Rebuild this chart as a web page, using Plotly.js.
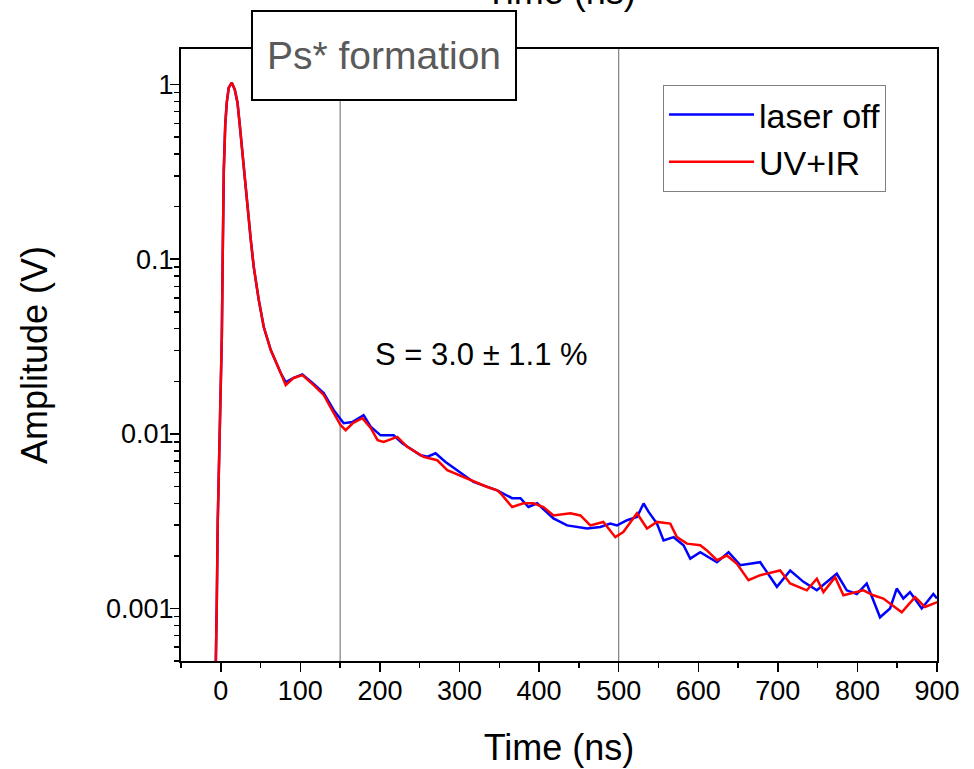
<!DOCTYPE html>
<html>
<head>
<meta charset="utf-8">
<script src="https://cdn.plot.ly/plotly-3.0.1.min.js"></script>
<style>html,body{margin:0;padding:0;background:#fff;}#chart{width:974px;height:769px;}</style>
</head>
<body>
<div id="chart"></div>
<script>
// Time (ns) and amplitude (V)
const timeLaserOff = [-7, -5.6, -5.0, -3.8, -2.5, -1.3, 0, 1.3, 2.5, 3.8, 5.6, 7.5, 10, 13.8, 17.6, 21, 23.8, 27.2, 30.1, 33.5, 37.7, 41.4, 47.7, 54, 62.8, 75.3,
  81.6, 91.6, 102.5, 116.7, 129.3, 141.8, 154.4, 165.7, 179.5, 188.3, 200.8, 217.2, 228.1, 251, 259.8, 269.9, 282.4, 317.6, 347.3, 366.1,
  376.6, 386.6, 397.5, 418, 435.2, 460.3, 477, 489.5, 497.9, 510.5, 523, 531.3, 537.6, 548.1, 556.4, 569, 581.5, 589.9, 602.5, 623.5,
  638.1, 652.7, 677.8, 698.8, 715.5, 732.2, 749, 774.1, 786.6, 799.2, 811.7, 828.4, 841, 849.4, 857.7, 866.1, 880.8, 895.4, 900];
const ampLaserOff = [0.0003, 0.000655, 0.00111, 0.0032, 0.0062, 0.0105, 0.0156, 0.0358, 0.113, 0.325, 0.59, 0.788, 0.961, 1.027, 0.936, 0.788, 0.59, 0.407, 0.285, 0.192, 0.129, 0.0904, 0.0585, 0.0409, 0.0302, 0.0223,
  0.0198, 0.0209, 0.0219, 0.0193, 0.0171, 0.0137, 0.0115, 0.0117, 0.0128, 0.011, 0.0098, 0.0098, 0.00883, 0.00754, 0.0074, 0.00774, 0.0069, 0.0053, 0.00475, 0.00428,
  0.00428, 0.00381, 0.004, 0.00328, 0.00299, 0.00287, 0.00293, 0.00306, 0.00299, 0.0032, 0.00334, 0.00399, 0.00357, 0.00306, 0.00245, 0.00256, 0.0023, 0.00193, 0.0021, 0.00184,
  0.0021, 0.00177, 0.00184, 0.00133, 0.00165, 0.00142, 0.00127, 0.00158, 0.00127, 0.00121, 0.00139, 0.00089, 0.001, 0.0013, 0.00114, 0.00124, 0.001, 0.00121, 0.00114];

const timeUvIr = [-7, -5.6, -5.0, -3.8, -2.5, -1.3, 0, 1.3, 2.5, 3.8, 5.6, 7.5, 10, 13.8, 17.6, 21, 23.8, 27.2, 30.1, 33.5, 37.7, 41.4, 47.7, 54, 62.8, 75.3,
  81.6, 91.6, 102.5, 116.7, 129.3, 141.8, 150.6, 156.9, 165.7, 177.9, 188.3, 197.1, 204.6, 221.8, 234.3, 254.8, 272, 284.6, 305, 334.8, 347.3, 351.5, 366.1, 380.3,
  392.9, 405.4, 418, 439.3, 451.9, 464.4, 480.7, 495.8, 505.8, 523, 535.6, 548.1, 564.8, 573.2, 585.8, 602.5, 610.9, 623.5, 636, 648.6,
  663.1, 677.8, 702.9, 715.5, 736.4, 749, 757.3, 772, 782.4, 807.5, 820, 832.6, 855.7, 872.4, 884.9, 901];
const ampUvIr = [0.0003, 0.000655, 0.00111, 0.0032, 0.0062, 0.0105, 0.0156, 0.0358, 0.113, 0.325, 0.59, 0.788, 0.961, 1.027, 0.936, 0.788, 0.59, 0.407, 0.285, 0.192, 0.129, 0.0904, 0.0585, 0.0409, 0.0302, 0.0223,
  0.019, 0.0209, 0.0217, 0.019, 0.0167, 0.0132, 0.0112, 0.0105, 0.0115, 0.0123, 0.0108, 0.0092, 0.009, 0.0096, 0.00842, 0.00738, 0.00706, 0.0062, 0.00567, 0.00496, 0.00475, 0.00457, 0.00381, 0.004,
  0.004, 0.00381, 0.00341, 0.00351, 0.00341, 0.00299, 0.00313, 0.00256, 0.00274, 0.00351, 0.00287, 0.00313, 0.00306, 0.00256, 0.00235, 0.0023, 0.00215, 0.00189, 0.00201, 0.0018,
  0.00145, 0.00155, 0.00165, 0.00139, 0.00127, 0.00148, 0.00124, 0.00151, 0.00119, 0.00127, 0.00119, 0.00114, 0.00095, 0.00116, 0.00102, 0.00109];

const seriesNames = ["laser off", "UV+IR"];
const yTickVals = [0.001, 0.01, 0.1, 1];
const yTickText = ["0.001", "0.01", "0.1", "1"];
const xTickVals = [0, 100, 200, 300, 400, 500, 600, 700, 800, 900];
const markerLines = [150, 500];
const boxLabel = "Ps* formation";
const noteLabel = "S = 3.0 ± 1.1 %";

const yMinor = [];
[0.0001, 0.001, 0.01, 0.1, 1].forEach(d => { for (let k = 2; k <= 9; k++) yMinor.push(+(d * k).toPrecision(3)); });

const xRange = [-50, 900];
const yRange = [Math.log10(0.0005), Math.log10(1.6)];
const tickFont = {family: "Liberation Sans, Arial", size: 27, color: "#000"};
const titleFont = {family: "Liberation Sans, Arial", size: 36, color: "#000"};

const traces = [
  {x: timeLaserOff, y: ampLaserOff, name: seriesNames[0], type: "scatter", mode: "lines",
   line: {color: "#0000ff", width: 2.5}},
  {x: timeUvIr, y: ampUvIr, name: seriesNames[1], type: "scatter", mode: "lines",
   line: {color: "#ff0000", width: 2.5}}
];

const layout = {
  width: 974, height: 769,
  margin: {l: 181, r: 37, t: 49, b: 108},
  paper_bgcolor: "#fff", plot_bgcolor: "#fff",
  showlegend: true,
  legend: {x: 0.6376, y: 0.9412, xanchor: "left", yanchor: "top",
    bgcolor: "#fff", bordercolor: "#808080", borderwidth: 1,
    font: {family: "Liberation Sans, Arial", size: 34, color: "#000"},
    itemwidth: 85, tracegroupgap: 0},
  xaxis: {range: xRange, type: "linear", showgrid: false, zeroline: false,
    showline: true, linecolor: "#000", linewidth: 2, mirror: true,
    ticks: "outside", ticklen: 9, tickwidth: 1.5, tickcolor: "#000",
    tickmode: "array", tickvals: xTickVals, tickfont: tickFont, ticklabelstandoff: -4,
    minor: {dtick: 50, tick0: 0, ticks: "outside", ticklen: 5, tickwidth: 1.5, tickcolor: "#000"},
    title: {text: "Time (ns)", font: titleFont, standoff: 29}},
  yaxis: {range: yRange, type: "log", showgrid: false, zeroline: false,
    showline: true, linecolor: "#000", linewidth: 2, mirror: true,
    ticks: "outside", ticklen: 9, tickwidth: 1.5, tickcolor: "#000",
    tickmode: "array", tickvals: yTickVals, ticktext: yTickText, tickfont: tickFont, ticklabelstandoff: -9,
    minor: {tickmode: "array", tickvals: yMinor, ticks: "outside", ticklen: 5, tickwidth: 1.5, tickcolor: "#000"},
    title: {text: "Amplitude (V)", font: titleFont, standoff: 47}},
  xaxis2: {range: xRange, type: "linear", overlaying: "x", side: "top", anchor: "y",
    showgrid: false, zeroline: false, showline: false, showticklabels: false,
    ticks: "inside", ticklen: 9, tickwidth: 1.5, tickcolor: "#000",
    tickmode: "array", tickvals: xTickVals,
    minor: {dtick: 50, tick0: 0, ticks: "inside", ticklen: 5, tickwidth: 1.5, tickcolor: "#000"}},
  yaxis2: {range: yRange, type: "log", overlaying: "y", side: "right", anchor: "x",
    showgrid: false, zeroline: false, showline: false, showticklabels: false,
    ticks: "inside", ticklen: 9, tickwidth: 1.5, tickcolor: "#000",
    tickmode: "array", tickvals: yTickVals,
    minor: {tickmode: "array", tickvals: yMinor, ticks: "inside", ticklen: 5, tickwidth: 1.5, tickcolor: "#000"}},
  shapes: markerLines.map(v => ({type: "line", xref: "x", yref: "paper", x0: v, x1: v, y0: 0, y1: 1,
    line: {color: "#7f7f7f", width: 1.2}, layer: "below"})),
  annotations: [
    {text: boxLabel, xref: "paper", yref: "paper", x: 0.2679, y: 0.9894, xanchor: "center", yanchor: "middle",
     showarrow: false, bgcolor: "#fff", bordercolor: "#000", borderwidth: 2, borderpad: 0,
     width: 262, height: 87,
     font: {family: "Liberation Sans, Arial", size: 39, color: "#5a5a5a"}},
    {text: noteLabel, xref: "x", yref: "paper", x: 328, y: 0.5016, xanchor: "center", yanchor: "middle",
     showarrow: false, font: {family: "Liberation Sans, Arial", size: 31, color: "#000"}},
    {text: "Time (ns)", xref: "paper", yref: "paper", x: 0.5026, y: 1.058, xanchor: "center", yanchor: "bottom",
     showarrow: false, font: titleFont}
  ]
};

Plotly.newPlot("chart", traces, layout, {displayModeBar: false, staticPlot: true});
</script>
</body>
</html>
